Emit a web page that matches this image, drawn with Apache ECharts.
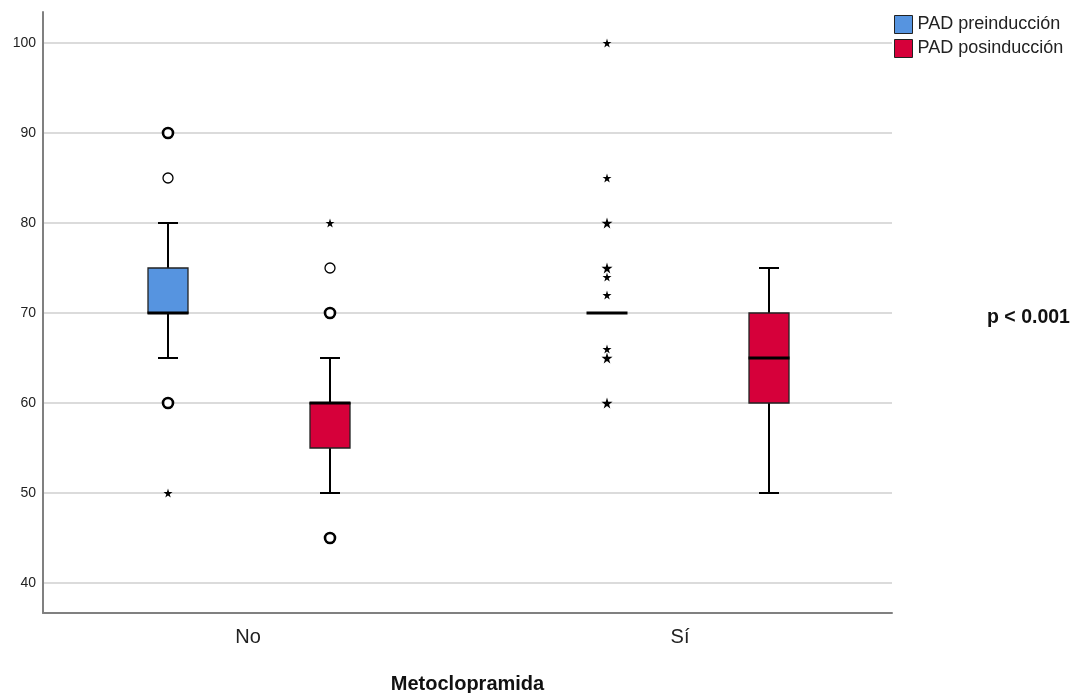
<!DOCTYPE html>
<html>
<head>
<meta charset="utf-8">
<script src="https://cdn.jsdelivr.net/npm/echarts@6/dist/echarts.min.js"></script>
<style>
  html, body { margin: 0; padding: 0; background: #fff; }
  #main { width: 1078px; height: 693px; }
</style>
</head>
<body>
<div id="main"></div>
<script>
// grupos del eje X
const categories = ['No', 'Sí'];
const seriesNames = ['PAD preinducción', 'PAD posinducción'];

// [min, Q1, mediana, Q3, max] por categoría
const preBoxes = [
  [65, 70, 70, 75, 80],
  [70, 70, 70, 70, 70]
];
const posBoxes = [
  [50, 55, 60, 60, 65],
  [50, 60, 65, 70, 75]
];

// atípicos (valores repetidos = varios casos)
const preNoCircles = [90, 90, 85, 60, 60];
const preNoStars = [50];
const posNoCircles = [75, 70, 70, 45, 45];
const posNoStars = [80];
const preSiStars = [100, 85, 80, 80, 75, 75, 74, 72, 66, 65, 65, 60, 60];

const yMin = 36.67;
const yMax = 103.44;

const FONT = '"Liberation Sans", Arial, sans-serif';
const BLUE = '#5694e0';
const RED = '#d6003a';
const STAR = 'path://M50,0 L61,35 L98,35 L68,57 L79,91 L50,70 L21,91 L32,57 L2,35 L39,35 Z';

function boxRenderer(offset, color) {
  return function (params, api) {
    const cat = api.value(0);
    const x = api.coord([cat, api.value(1)])[0] + offset;
    const y = i => api.coord([cat, api.value(i)])[1];
    const lo = y(1), q1 = y(2), med = y(3), q3 = y(4), hi = y(5);
    const half = 20, cap = 10;
    const line = (x1, y1, x2, y2, w) => ({
      type: 'line', shape: { x1, y1, x2, y2 }, style: { stroke: '#000', lineWidth: w }
    });
    return {
      type: 'group',
      children: [
        line(x, hi, x, q3, 2),
        line(x, q1, x, lo, 2),
        line(x - cap, hi, x + cap, hi, 2),
        line(x - cap, lo, x + cap, lo, 2),
        { type: 'rect', shape: { x: x - half, y: q3, width: half * 2, height: q1 - q3 },
          style: { fill: color, stroke: '#222', lineWidth: 1.3 } },
        line(x - half - 0.5, med, x + half + 0.5, med, 3)
      ]
    };
  };
}

// agrupa valores repetidos para marcarlos más gruesos
function outlierData(cat, values, kind) {
  const counts = {};
  values.forEach(v => { counts[v] = (counts[v] || 0) + 1; });
  return Object.keys(counts).map(k => {
    const n = counts[k];
    if (kind === 'circle') {
      return { value: [cat, +k], itemStyle: { borderWidth: n > 1 ? 2.6 : 1.3 } };
    }
    return { value: [cat, +k], symbolSize: n > 1 ? 11 : 9 };
  });
}

function circleSeries(name, data, offset) {
  return {
    name: name, type: 'scatter', xAxisIndex: 1, yAxisIndex: 1,
    symbol: 'circle', symbolSize: 10, symbolOffset: [offset, 0],
    itemStyle: { color: '#fff', borderColor: '#000', borderWidth: 1.3, opacity: 1 },
    data: data, z: 5
  };
}

function starSeries(name, data, offset) {
  return {
    name: name, type: 'scatter', xAxisIndex: 1, yAxisIndex: 1,
    symbol: STAR, symbolSize: 9, symbolOffset: [offset, 0],
    itemStyle: { color: '#000', opacity: 1 },
    data: data, z: 5
  };
}

const chart = echarts.init(document.getElementById('main'), null, { renderer: 'canvas' });

const hiddenY = gi => ({ type: 'value', gridIndex: gi, min: yMin, max: yMax, show: false });
const gridBox = left => ({ left: left, top: 12, width: 849, height: 601, outerBoundsMode: 'none', containLabel: false });

chart.setOption({
  animation: false,
  backgroundColor: '#fff',
  textStyle: { fontFamily: FONT },
  title: {
    text: 'p < 0.001', left: 982, top: 303,
    textStyle: { fontFamily: FONT, fontSize: 19.5, fontWeight: 'bold', color: '#111' }
  },
  legend: {
    orient: 'vertical', left: 894, top: 15, padding: 0,
    itemWidth: 18, itemHeight: 18, itemGap: 5,
    textStyle: { fontFamily: FONT, fontSize: 18, color: '#222' },
    data: [
      { name: seriesNames[0], icon: 'rect', itemStyle: { color: BLUE, borderColor: '#222', borderWidth: 1 } },
      { name: seriesNames[1], icon: 'rect', itemStyle: { color: RED, borderColor: '#222', borderWidth: 1 } }
    ]
  },
  grid: [
    gridBox(43),
    Object.assign(gridBox(29.5), { width: 878 }),
    Object.assign(gridBox(32), { width: 864 })
  ],
  xAxis: [
    {
      type: 'category', gridIndex: 0, data: categories,
      axisLine: { lineStyle: { color: '#808080', width: 2 } },
      axisTick: { show: false }, axisLabel: { show: false }, splitLine: { show: false },
      name: 'Metoclopramida', nameLocation: 'middle', nameGap: 61,
      nameTextStyle: { fontFamily: FONT, fontSize: 20, fontWeight: 'bold', color: '#111' }
    },
    { type: 'category', gridIndex: 1, data: categories, show: false },
    {
      type: 'category', gridIndex: 2, data: categories,
      axisLine: { show: false }, axisTick: { show: false }, splitLine: { show: false },
      axisLabel: { fontFamily: FONT, fontSize: 20, color: '#222', margin: 14 }
    }
  ],
  yAxis: [
    {
      type: 'value', gridIndex: 0, min: yMin, max: yMax,
      axisLine: { show: true, lineStyle: { color: '#808080', width: 2 } },
      axisTick: { show: false },
      axisLabel: { fontFamily: FONT, fontSize: 14, color: '#222', margin: 7,
        showMinLabel: false, showMaxLabel: false },
      splitLine: { show: true, showMinLine: false, showMaxLine: false,
        lineStyle: { color: '#cfcfcf', width: 1.5 } }
    },
    hiddenY(1),
    hiddenY(2)
  ],
  series: [
    {
      name: seriesNames[0], type: 'custom', xAxisIndex: 1, yAxisIndex: 1,
      renderItem: boxRenderer(-81, BLUE), itemStyle: { color: BLUE },
      encode: { x: 0, y: [1, 2, 3, 4, 5] },
      data: preBoxes.map((b, i) => [i].concat(b)), z: 3
    },
    {
      name: seriesNames[1], type: 'custom', xAxisIndex: 1, yAxisIndex: 1,
      renderItem: boxRenderer(81, RED), itemStyle: { color: RED },
      encode: { x: 0, y: [1, 2, 3, 4, 5] },
      data: posBoxes.map((b, i) => [i].concat(b)), z: 3
    },
    circleSeries('pre circ', outlierData(0, preNoCircles, 'circle'), -81),
    starSeries('pre star', outlierData(0, preNoStars, 'star').concat(outlierData(1, preSiStars, 'star')), -81),
    circleSeries('pos circ', outlierData(0, posNoCircles, 'circle'), 81),
    starSeries('pos star', outlierData(0, posNoStars, 'star'), 81)
  ]
});
</script>
</body>
</html>
